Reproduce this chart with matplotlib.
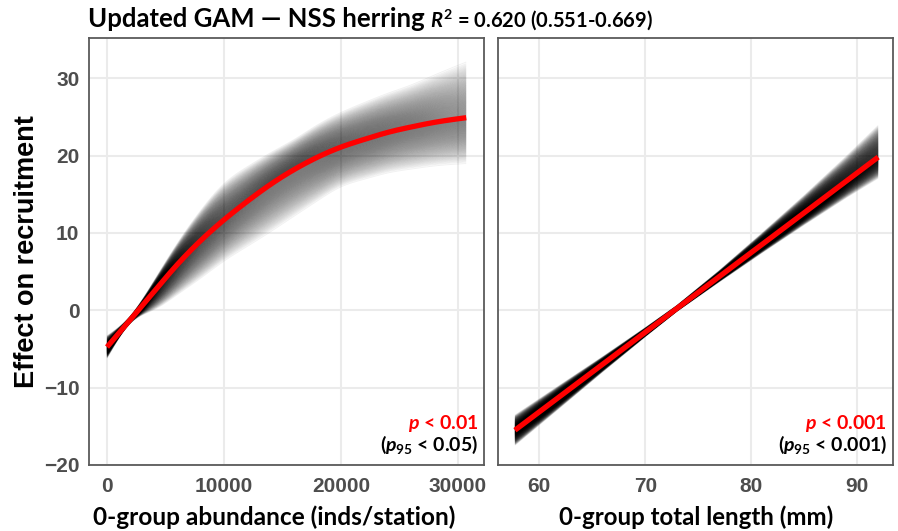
import numpy as np
import matplotlib
matplotlib.use("Agg")
import matplotlib.pyplot as plt
from matplotlib.collections import LineCollection
from matplotlib.font_manager import FontProperties

plt.rcParams["mathtext.fontset"] = "custom"
plt.rcParams["mathtext.it"] = "Lato:italic:bold"
plt.rcParams["mathtext.rm"] = "Lato:bold"
plt.rcParams["mathtext.bf"] = "Lato:bold"

# ---- smooth term: 0-group abundance ----
abund_knots = [0, 2000, 4000, 6000, 8000, 10000, 12000, 14000, 16000, 18000,
               20000, 22000, 24000, 26000, 28000, 30700]
abund_effect = [-4.75, -1.2, 2.4, 5.9, 9.0, 11.7, 14.1, 16.3, 18.2, 19.8,
                21.1, 22.1, 23.0, 23.7, 24.3, 24.9]
# outer spread of posterior draws above / below the fit
abund_spread_up = [1.5, 0.5, 1.4, 2.8, 4.0, 4.8, 4.6, 4.2, 4.0, 4.3, 4.6, 4.9, 5.2, 5.6, 6.3, 7.4]
abund_spread_lo = [1.5, 0.5, 2.4, 4.0, 5.0, 5.5, 6.0, 6.3, 6.2, 5.8, 5.3, 5.3, 5.4, 5.6, 5.8, 6.1]

# ---- linear term: 0-group total length ----
length_ends = [57.7, 92.0]
length_effect_ends = [-15.5, 19.8]
length_knots = [57.7, 62, 66, 70, 73, 77, 81, 85, 89, 92]
length_spread_up = [2.0, 1.5, 1.0, 0.6, 0.4, 0.8, 1.5, 2.3, 3.3, 4.2]
length_spread_lo = [2.0, 1.5, 1.0, 0.6, 0.4, 0.7, 1.1, 1.6, 2.2, 2.8]

title_main = "Updated GAM \u2014 NSS herring"
title_r2 = r"$R^2$ = 0.620 (0.551-0.669)"
abund_label = "0-group abundance (inds/station)"
length_label = "0-group total length (mm)"
y_label = "Effect on recruitment"
abund_p = (r"$p$ < 0.01", r"($p_{\mathit{95}}$ < 0.05)")
length_p = (r"$p$ < 0.001", r"($p_{\mathit{95}}$ < 0.001)")
abund_ticks = [0, 10000, 20000, 30000]
length_ticks = [60, 70, 80, 90]
y_ticks = [-20, -10, 0, 10, 20, 30]


def spline(xk, yk, xs):
    xk = np.asarray(xk, float)
    yk = np.asarray(yk, float)
    n = len(xk)
    h = np.diff(xk)
    A = np.zeros((n, n))
    r = np.zeros(n)
    A[0, 0] = A[-1, -1] = 1
    for i in range(1, n - 1):
        A[i, i - 1] = h[i - 1]
        A[i, i] = 2 * (h[i - 1] + h[i])
        A[i, i + 1] = h[i]
        r[i] = 3 * ((yk[i + 1] - yk[i]) / h[i] - (yk[i] - yk[i - 1]) / h[i - 1])
    c = np.linalg.solve(A, r)
    b = (yk[1:] - yk[:-1]) / h - h * (2 * c[:-1] + c[1:]) / 3
    d = (c[1:] - c[:-1]) / (3 * h)
    idx = np.clip(np.searchsorted(xk, xs) - 1, 0, n - 2)
    t = xs - xk[idx]
    return yk[idx] + b[idx] * t + c[idx] * t ** 2 + d[idx] * t ** 3


def draws(ax, xs, mid, up, lo, n=650, alpha=0.055):
    # spaghetti of draws: broad body around the fit, thinning out toward
    # the outer envelope (cosine-shaped spacing of the offsets)
    u = np.linspace(-0.999, 0.999, n)
    s = 2 / np.pi * np.arcsin(u)
    segs = [np.column_stack([xs, mid + (si * up if si >= 0 else si * lo)]) for si in s]
    ax.add_collection(LineCollection(segs, colors="black", alpha=alpha,
                                     linewidths=0.7, zorder=2))


fig = plt.figure(figsize=(8.98, 5.31), dpi=100)
ax1 = fig.add_axes([89 / 898, 66 / 531, 395 / 898, 427 / 531])
ax2 = fig.add_axes([498 / 898, 66 / 531, 395 / 898, 427 / 531])

for ax, ticks in ((ax1, abund_ticks), (ax2, length_ticks)):
    ax.set_ylim(-20, 35.2)
    ax.set_yticks(y_ticks)
    ax.set_xticks(ticks)
    ax.grid(True, color="#ebebeb", lw=1.5, zorder=0)
    ax.set_axisbelow(True)
    ax.tick_params(length=0, pad=9)
    for lab in ax.get_xticklabels() + ax.get_yticklabels():
        lab.set_fontproperties(FontProperties(family="Liberation Sans",
                                              weight="bold", size=15))
        lab.set_color("#4d4d4d")
    for s in ax.spines.values():
        s.set_color("#5a5a5a")
        s.set_linewidth(1.3)

ax1.set_xlim(-1540, 32220)
ax2.set_xlim(56.1, 93.4)
ax2.tick_params(labelleft=False)
ax1.tick_params(axis="y", pad=7)

# abundance panel
xs = np.linspace(abund_knots[0], abund_knots[-1], 400)
mid = spline(abund_knots, abund_effect, xs)
draws(ax1, xs, mid, spline(abund_knots, abund_spread_up, xs),
      spline(abund_knots, abund_spread_lo, xs))
ax1.plot(xs, mid, color="#ff0000", lw=3.8, solid_capstyle="butt", zorder=4)

# length panel
xs = np.linspace(length_ends[0], length_ends[1], 300)
mid = np.interp(xs, length_ends, length_effect_ends)
draws(ax2, xs, mid, np.interp(xs, length_knots, length_spread_up),
      np.interp(xs, length_knots, length_spread_lo), alpha=0.07)
ax2.plot(xs, mid, color="#ff0000", lw=3.8, solid_capstyle="butt", zorder=4)

lab_font = dict(family="Lato", weight="bold")
for ax, (p1, p2) in ((ax1, abund_p), (ax2, length_p)):
    ax.text(0.985, 0.098, p1, transform=ax.transAxes, ha="right", va="center",
            color="#ff0000", fontsize=14, zorder=6, **lab_font)
    ax.text(0.985, 0.046, p2, transform=ax.transAxes, ha="right", va="center",
            color="black", fontsize=14, zorder=6, **lab_font)

fig.text(274.5 / 898, 1 - 517 / 531, abund_label, ha="center", va="center",
         fontsize=17.6, **lab_font)
fig.text(696 / 898, 1 - 517 / 531, length_label, ha="center", va="center",
         fontsize=17.3, **lab_font)
fig.text(27 / 898, 0.5 * ((531 - 38) + (531 - 465)) / 531, y_label,
         rotation=90, ha="center", va="center", fontsize=19.5,
         family="Liberation Sans", weight="bold")

fig.text(88 / 898, 1 - 19 / 531, title_main, ha="left", va="center",
         fontsize=18.5, **lab_font)
fig.text(430 / 898, 1 - 20 / 531, title_r2, ha="left", va="center",
         fontsize=14.5, **lab_font)

fig.savefig("out.png", dpi=100, facecolor="white")
